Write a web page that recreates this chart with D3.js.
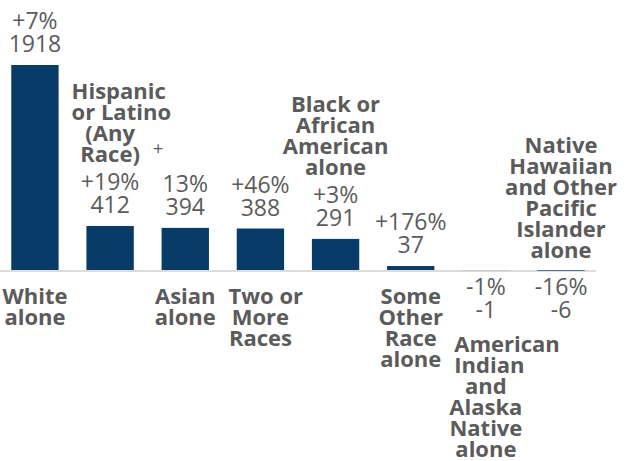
<!DOCTYPE html>
<html>
<head>
<meta charset="utf-8">
<script src="https://cdn.jsdelivr.net/npm/d3@7"></script>
<style>
  body { margin: 0; background: #fff; }
  .cat { font-family: "Open Sans", sans-serif; font-weight: 700; font-size: 22px; fill: #5b5b5b; }
  .val { font-family: "Open Sans", sans-serif; font-weight: 400; font-size: 23px; fill: #5b5b5b; }
</style>
</head>
<body>
<svg id="chart" width="637" height="461"></svg>
<script>
// categories (line breaks as in the chart)
const categories = [
  "White\nalone",
  "Hispanic\nor Latino\n(Any\nRace)",
  "Asian\nalone",
  "Two or\nMore\nRaces",
  "Black or\nAfrican\nAmerican\nalone",
  "Some\nOther\nRace\nalone",
  "American\nIndian\nand\nAlaska\nNative\nalone",
  "Native\nHawaiian\nand Other\nPacific\nIslander\nalone"
];
const values = [1918, 412, 394, 388, 291, 37, -1, -6];
const changes = ["+7%", "+19%", "13%", "+46%", "+3%", "+176%", "-1%", "-16%"];

const data = categories.map((c, i) => ({ cat: c, value: values[i], change: changes[i] }));

const margin = { top: 65, left: 0, right: 41, baseline: 270 };
const width = 637;

const svg = d3.select('#chart');

//Escalas
const x = d3.scaleBand()
  .domain(categories)
  .range([margin.left, width - margin.right])
  .paddingInner(0.37)
  .paddingOuter(0.15);

const y = d3.scaleLinear()
  .domain([0, d3.max(values)])
  .range([margin.baseline, margin.top]);

const cx = d => x(d.cat) + x.bandwidth() / 2;

// which category names sit above the bar instead of under the axis
const above = new Set([1, 4, 7]);

// baseline
svg.append('line')
  .attr('x1', x.range()[0])
  .attr('x2', x.range()[1])
  .attr('y1', y(0) + 1)
  .attr('y2', y(0) + 1)
  .attr('stroke', '#dcdcdc')
  .attr('stroke-width', 2);

// bars
svg.selectAll('.bar')
  .data(data)
  .enter()
  .append('rect')
  .attr('class', 'bar')
  .attr('x', d => x(d.cat))
  .attr('width', x.bandwidth())
  .attr('y', d => Math.min(y(d.value), y(0)))
  .attr('height', d => Math.abs(y(d.value) - y(0)))
  .attr('fill', '#083c68');

const valLine = 23;
const catLine = 21;
const gap = 13;

// boxes the category names must keep clear of (bars + name lines already placed)
const obstacles = data.map(d => ({
  x0: x(d.cat), x1: x(d.cat) + x.bandwidth(),
  y0: Math.min(y(d.value), y(0)), y1: Math.max(y(d.value), y(0))
}));

data.forEach((d, i) => {
  let first, second;
  if (d.value >= 0) {
    second = y(d.value) - 13;
    first = second - valLine;
  } else {
    first = y(0) + 25;
    second = first + valLine;
  }

  const vt = svg.append('text').attr('class', 'val').attr('text-anchor', 'middle');
  vt.append('tspan').attr('x', cx(d)).attr('y', first).text(d.change);
  vt.append('tspan').attr('x', cx(d)).attr('y', second).text(d.value);

  const lines = d.cat.split('\n');
  let startY;
  if (above.has(i)) {
    const top = d.value >= 0 ? first - 16 : y(0);
    startY = top - 12 - (lines.length - 1) * catLine;
  } else {
    const bottom = d.value >= 0 ? y(0) : second;
    startY = bottom + 34;
  }
  const ct = svg.append('text').attr('class', 'cat').attr('text-anchor', 'middle');
  const placed = [];
  lines.forEach((l, k) => {
    const s = ct.append('tspan').attr('x', cx(d)).attr('y', startY + k * catLine).text(l);
    const w = s.node().getComputedTextLength();
    const b = startY + k * catLine;
    const box = { x0: cx(d) - w / 2, x1: cx(d) + w / 2, y0: b - 16, y1: b + 2 };

    // nudge the line right if it runs into something on its left
    let shift = 0;
    obstacles.forEach((o, j) => {
      if (j === i || o.x0 > cx(d)) return;
      if (box.y1 < o.y0 || box.y0 > o.y1) return;
      shift = Math.max(shift, o.x1 + gap - box.x0);
    });
    s.attr('x', cx(d) + shift);
    placed.push({ x0: box.x0 + shift, x1: box.x1 + shift, y0: box.y0, y1: box.y1 });
  });
  placed.forEach(p => obstacles.push(p));

  // stray "+" left over from the Asian change label
  if (i === 2) {
    svg.append('text').attr('class', 'val')
      .attr('text-anchor', 'middle')
      .style('font-size', '18px')
      .attr('x', cx(d) - 27)
      .attr('y', first - 37)
      .text('+');
  }
});
</script>
</body>
</html>
